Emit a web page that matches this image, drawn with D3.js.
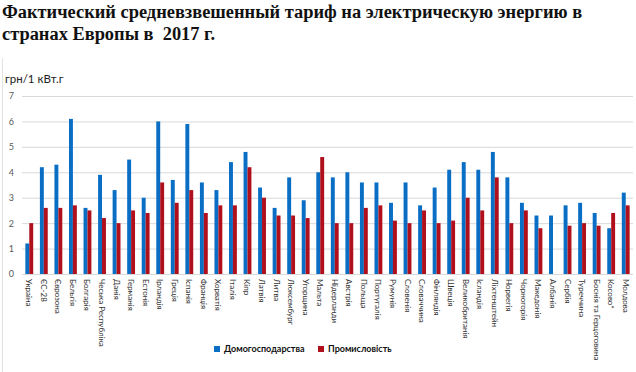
<!DOCTYPE html>
<html>
<head>
<meta charset="utf-8">
<script src="https://cdn.jsdelivr.net/npm/d3@7"></script>
<style>
    body { margin: 0; background: #fff; }
    svg { display: block; }
</style>
</head>
<body>
<div id="chart"></div>
<script>
// Countries (x axis)
var countries = ["Україна", "ЄС-28", "Єврозона", "Бельгія", "Болгарія", "Чеська Республіка", "Данія",
    "Германія", "Естонія", "Ірландія", "Греція", "Іспанія", "Франція", "Хорватія", "Італія", "Кіпр",
    "Латвія", "Литва", "Люксембург", "Угорщина", "Мальта", "Нідерланди", "Австрія", "Польща",
    "Португалія", "Румунія", "Словенія", "Словаччина", "Фінляндія", "Швеція", "Великобританія",
    "Ісландія", "Ліхтенштейн", "Норвегія", "Чорногорія", "Македонія", "Албанія", "Сербія",
    "Туреччина", "Боснія та Герцоговина", "Косово*", "Молдова"];

// Households, UAH per kWh
var households = [1.2, 4.2, 4.3, 6.1, 2.6, 3.9, 3.3, 4.5, 3.0, 6.0, 3.7, 5.9, 3.6, 3.3, 4.4, 4.8,
    3.4, 2.6, 3.8, 2.9, 4.0, 3.8, 4.0, 3.6, 3.6, 2.8, 3.6, 2.7, 3.4, 4.1, 4.4,
    4.1, 4.8, 3.8, 2.8, 2.3, 2.3, 2.7, 2.8, 2.4, 1.8, 3.2];

// Industry, UAH per kWh (Albania has no value)
var industry = [2.0, 2.6, 2.6, 2.7, 2.5, 2.2, 2.0, 2.5, 2.4, 3.6, 2.8, 3.3, 2.4, 2.7, 2.7, 4.2,
    3.0, 2.3, 2.3, 2.2, 4.6, 2.0, 2.0, 2.6, 2.7, 2.1, 2.0, 2.5, 2.0, 2.1, 3.0,
    2.5, 3.8, 2.0, 2.5, 1.8, null, 1.9, 2.0, 1.9, 2.4, 2.7];

var seriesNames = ["Домогосподарства", "Промисловість"];
var yTicks = [0, 1, 2, 3, 4, 5, 6, 7];

// Layout
var WIDTH = 636, HEIGHT = 372;
var margin = {top: 96, right: 3, bottom: 98, left: 22};
var COLORS = ["#0a6fc4", "#b0101c"];

var svg = d3.select("#chart").append("svg")
    .attr("width", WIDTH)
    .attr("height", HEIGHT);

// Title
var title = svg.append("text")
    .attr("x", 2)
    .attr("y", 18)
    .attr("xml:space", "preserve")
    .style("font-family", "'Liberation Serif', 'DejaVu Serif', serif")
    .style("font-weight", "bold")
    .style("font-size", "18.4px")
    .style("fill", "#111");
title.append("tspan").attr("x", 2).attr("dy", 0)
    .text("Фактический средневзвешенный тариф на электрическую энергию в");
title.append("tspan").attr("x", 2).attr("dy", 22)
    .text("странах Европы в\u00a0 2017 г.");

// Faint chart frame edge
svg.append("line")
    .attr("x1", 2.5).attr("x2", 2.5)
    .attr("y1", 58).attr("y2", HEIGHT)
    .attr("stroke", "#e2e2e2");

var plotW = WIDTH - margin.left - margin.right;
var plotH = HEIGHT - margin.top - margin.bottom;

var x = d3.scaleBand()
    .domain(countries)
    .range([margin.left, margin.left + plotW])
    .paddingInner(0.46)
    .paddingOuter(0.23);

var xSub = d3.scaleBand()
    .domain([0, 1])
    .range([0, x.bandwidth()]);

var y = d3.scaleLinear()
    .domain([0, 7])
    .range([margin.top + plotH, margin.top]);

// Grid lines + y tick labels
var yAxis = svg.append("g")
    .attr("transform", "translate(" + margin.left + ",0)")
    .call(d3.axisLeft(y).tickValues(yTicks).tickFormat(d3.format("d")).tickSize(-plotW).tickPadding(8));
yAxis.select(".domain").remove();
yAxis.selectAll(".tick line").attr("stroke", "#d9d9d9");
yAxis.selectAll(".tick text")
    .style("font-family", "Lato, 'Liberation Sans', sans-serif")
    .style("font-size", "9px")
    .style("fill", "#595959");

// Y axis unit label
svg.append("text")
    .attr("x", 5)
    .attr("y", 83)
    .style("font-family", "Lato, 'Liberation Sans', sans-serif")
    .style("font-size", "11.5px")
    .style("fill", "#222")
    .text("грн/1 кВт.г");

// Bars
var groups = svg.append("g").attr("class", "bars")
    .selectAll("g")
    .data(countries)
    .enter().append("g")
        .attr("transform", function(d) { return "translate(" + x(d) + ",0)"; });

groups.selectAll("rect")
    .data(function(d, i) {
        return [households[i], industry[i]].map(function(v, k) { return {k: k, v: v}; });
    })
    .enter().filter(function(d) { return d.v !== null; }).append("rect")
        .attr("x", function(d) { return xSub(d.k); })
        .attr("width", xSub.bandwidth())
        .attr("y", function(d) { return y(d.v); })
        .attr("height", function(d) { return y(0) - y(d.v); })
        .attr("fill", function(d) { return COLORS[d.k]; });

// X axis baseline
svg.append("line")
    .attr("x1", margin.left).attr("x2", margin.left + plotW)
    .attr("y1", y(0) + 0.5).attr("y2", y(0) + 0.5)
    .attr("stroke", "#d9d9d9");

// X labels, rotated to read top to bottom
svg.append("g").attr("class", "xlabels")
    .selectAll("text")
    .data(countries)
    .enter().append("text")
        .attr("transform", function(d) {
            return "translate(" + (x(d) + x.bandwidth() / 2 - 3) + "," + (y(0) + 5) + ") rotate(90)";
        })
        .style("font-family", "Lato, 'Liberation Sans', sans-serif")
        .style("font-size", "8px")
        .style("fill", "#333")
        .text(function(d) { return d; });

// Legend
var legend = svg.append("g").attr("class", "legend")
    .selectAll("g")
    .data(seriesNames)
    .enter().append("g")
        .attr("transform", function(d, i) { return "translate(" + (214 + i * 104) + ",352)"; });

legend.append("rect")
    .attr("x", 0).attr("y", -6)
    .attr("width", 6).attr("height", 6)
    .attr("fill", function(d, i) { return COLORS[i]; });

legend.append("text")
    .attr("x", 10)
    .attr("y", 0)
    .style("font-family", "Lato, 'Liberation Sans', sans-serif")
    .style("font-weight", "bold")
    .style("font-size", "9px")
    .style("fill", "#111")
    .text(function(d) { return d; });
</script>
</body>
</html>
